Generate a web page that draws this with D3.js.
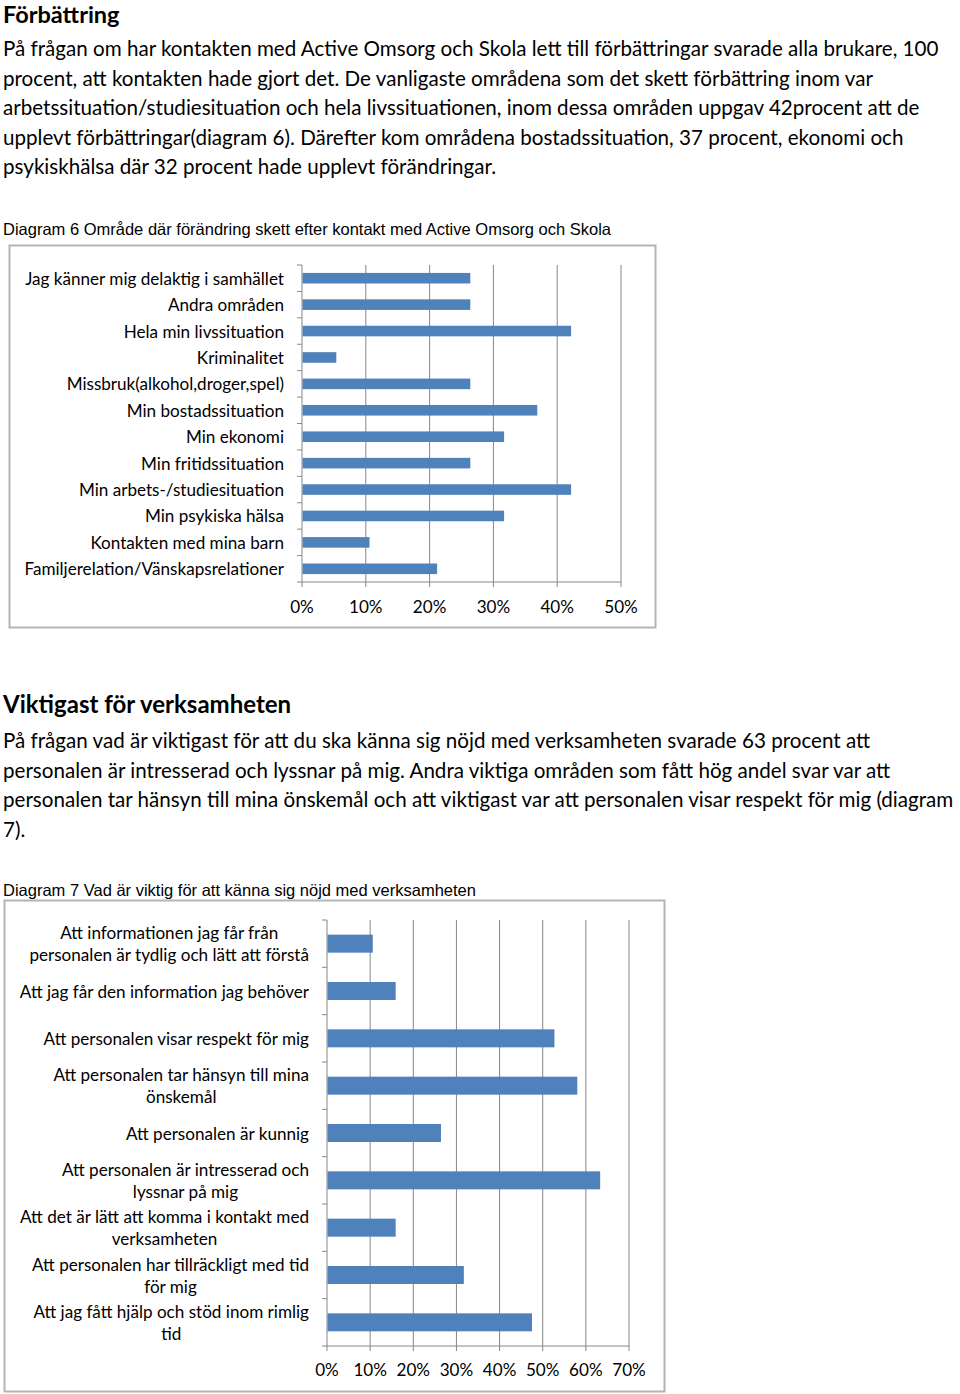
<!DOCTYPE html>
<html>
<head>
    <meta charset="utf-8">
    <title>Förbättring</title>
    <script src="https://d3js.org/d3.v7.min.js"></script>
    <style>
        body { margin: 0; background: #fff; }
        svg { display: block; }
        .body-text { font-family: Lato, "Open Sans", sans-serif; fill: #000; }
        .caption { font-family: "Liberation Sans", Arial, sans-serif; fill: #000; }
    </style>
</head>
<body>
<svg id="page" width="960" height="1394"></svg>

<script>
    // Diagram 6
    var categories6 = [
        "Jag känner mig delaktig i samhället",
        "Andra områden",
        "Hela min livssituation",
        "Kriminalitet",
        "Missbruk(alkohol,droger,spel)",
        "Min bostadssituation",
        "Min ekonomi",
        "Min fritidssituation",
        "Min arbets-/studiesituation",
        "Min psykiska hälsa",
        "Kontakten med mina barn",
        "Familjerelation/Vänskapsrelationer"
    ];
    var values6 = [26.3, 26.3, 42.1, 5.3, 26.3, 36.8, 31.6, 26.3, 42.1, 31.6, 10.5, 21.1];
    var ticks6 = [0, 10, 20, 30, 40, 50];

    // Diagram 7
    var categories7 = [
        ["Att informationen jag får från", "personalen är tydlig och lätt att förstå"],
        ["Att jag får den information jag behöver"],
        ["Att personalen visar respekt för mig"],
        ["Att personalen tar hänsyn till mina", "önskemål"],
        ["Att personalen är kunnig"],
        ["Att personalen är intresserad och", "lyssnar på mig"],
        ["Att det är lätt att komma i kontakt med", "verksamheten"],
        ["Att personalen har tillräckligt med tid", "för mig"],
        ["Att jag fått hjälp och stöd inom rimlig", "tid"]
    ];
    var values7 = [10.5, 15.8, 52.6, 57.9, 26.3, 63.2, 15.8, 31.6, 47.4];
    var ticks7 = [0, 10, 20, 30, 40, 50, 60, 70];

    var para1 = [
        "På frågan om har kontakten med Active Omsorg och Skola lett till förbättringar svarade alla brukare, 100",
        "procent, att kontakten hade gjort det. De vanligaste områdena som det skett förbättring inom var",
        "arbetssituation/studiesituation och hela livssituationen, inom dessa områden uppgav 42procent att de",
        "upplevt förbättringar(diagram 6). Därefter kom områdena bostadssituation, 37 procent, ekonomi och",
        "psykiskhälsa där 32 procent hade upplevt förändringar."
    ];
    var para2 = [
        "På frågan vad är viktigast för att du ska känna sig nöjd med verksamheten svarade 63 procent att",
        "personalen är intresserad och lyssnar på mig. Andra viktiga områden som fått hög andel svar var att",
        "personalen tar hänsyn till mina önskemål och att viktigast var att personalen visar respekt för mig (diagram",
        "7)."
    ];

    var svg = d3.select("#page");
    var barColor = "#4f81bd";
    var gridColor = "#868686";

    function textLines(lines, x, y0, step, size) {
        svg.append("g").selectAll("text")
            .data(lines)
            .enter().append("text")
            .attr("class", "body-text")
            .attr("x", x)
            .attr("y", function(d, i) { return y0 + i * step; })
            .attr("dominant-baseline", "central")
            .style("font-size", size + "px")
            .text(function(d) { return d; });
    }

    function heading(txt, y, size) {
        svg.append("text")
            .attr("class", "body-text")
            .attr("x", 3).attr("y", y)
            .attr("dominant-baseline", "central")
            .style("font-size", size + "px")
            .style("font-weight", "bold")
            .text(txt);
    }

    function caption(txt, y) {
        svg.append("text")
            .attr("class", "caption")
            .attr("x", 3).attr("y", y)
            .attr("dominant-baseline", "central")
            .style("font-size", "16.5px")
            .text(txt);
    }

    // o: frame, x0, x1, max, top, bottom, pad, tickY, fontSize, labelGap, lineH
    function barChart(cats, vals, tickVals, o) {
        var g = svg.append("g");

        g.append("rect")
            .attr("x", o.frame[0]).attr("y", o.frame[1])
            .attr("width", o.frame[2]).attr("height", o.frame[3])
            .style("fill", "none")
            .style("stroke", "#b4b4b4")
            .style("stroke-width", 2);

        var x = d3.scaleLinear().domain([0, o.max]).range([o.x0, o.x1]);
        var y = d3.scaleBand().domain(d3.range(cats.length))
            .range([o.top, o.bottom])
            .paddingInner(o.pad).paddingOuter(o.pad / 2);

        // gridlines
        g.append("g").selectAll("line")
            .data(tickVals)
            .enter().append("line")
            .attr("x1", function(d) { return x(d); })
            .attr("x2", function(d) { return x(d); })
            .attr("y1", o.top).attr("y2", o.bottom + 5)
            .style("stroke", gridColor)
            .style("stroke-width", 1);

        // y axis ticks at band boundaries
        var half = (y.step() - y.bandwidth()) / 2;
        var bounds = d3.range(cats.length).map(function(i) { return y(i) - half; });
        bounds.push(o.bottom);
        g.append("g").selectAll("line")
            .data(bounds)
            .enter().append("line")
            .attr("x1", o.x0 - 5).attr("x2", o.x0)
            .attr("y1", function(d) { return d; })
            .attr("y2", function(d) { return d; })
            .style("stroke", gridColor);

        // bottom axis line
        g.append("line")
            .attr("x1", o.x0).attr("x2", o.x1)
            .attr("y1", o.bottom).attr("y2", o.bottom)
            .style("stroke", gridColor);

        // bars
        g.append("g").selectAll("rect")
            .data(vals)
            .enter().append("rect")
            .attr("x", o.x0 + 0.5)
            .attr("y", function(d, i) { return y(i); })
            .attr("width", function(d) { return x(d) - o.x0; })
            .attr("height", y.bandwidth())
            .style("fill", barColor);

        // tick labels
        g.append("g").selectAll("text")
            .data(tickVals)
            .enter().append("text")
            .attr("class", "body-text")
            .attr("x", function(d) { return x(d); })
            .attr("y", o.tickY)
            .attr("text-anchor", "middle")
            .attr("dominant-baseline", "central")
            .style("font-size", o.fontSize + "px")
            .text(function(d) { return d + "%"; });

        // category labels, multi-line ones centred in a right-aligned block
        var right = o.x0 - o.labelGap;
        cats.forEach(function(c, i) {
            var lines = Array.isArray(c) ? c : [c];
            var cy = y(i) + y.bandwidth() / 2;
            var t = g.append("text")
                .attr("class", "body-text")
                .style("font-size", o.fontSize + "px");
            lines.forEach(function(l, j) {
                t.append("tspan")
                    .attr("y", cy + (j - (lines.length - 1) / 2) * o.lineH)
                    .attr("dominant-baseline", "central")
                    .text(l);
            });
            if (lines.length === 1) {
                t.attr("text-anchor", "end");
                t.selectAll("tspan").attr("x", right);
            } else {
                var w = 0;
                t.selectAll("tspan").each(function() { w = Math.max(w, this.getComputedTextLength()); });
                t.attr("text-anchor", "middle");
                t.selectAll("tspan").attr("x", right - w / 2);
            }
        });
    }

    heading("Förbättring", 14, 23.5);
    textLines(para1, 3, 48, 29.5, 20.6);
    caption("Diagram 6 Område där förändring skett efter kontakt med Active Omsorg och Skola", 229);

    barChart(categories6, values6, ticks6, {
        frame: [9.5, 245.5, 646, 382],
        x0: 302, x1: 621, max: 50,
        top: 265, bottom: 582, pad: 0.6,
        tickY: 606, fontSize: 17.1, labelGap: 18, lineH: 22
    });

    heading("Viktigast för verksamheten", 703, 24);
    textLines(para2, 3, 740, 29.5, 20.6);
    caption("Diagram 7 Vad är viktig för att känna sig nöjd med verksamheten", 890);

    barChart(categories7, values7, ticks7, {
        frame: [4.5, 900.5, 660, 491],
        x0: 327, x1: 629, max: 70,
        top: 920, bottom: 1346, pad: 0.62,
        tickY: 1369, fontSize: 17.1, labelGap: 18, lineH: 22
    });
</script>
</body>
</html>
